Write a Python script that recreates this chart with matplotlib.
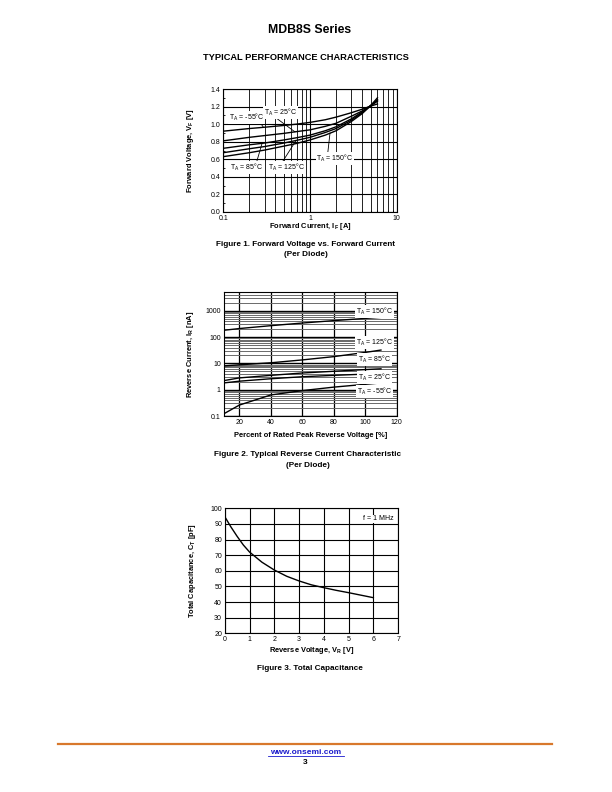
import numpy as np
import matplotlib
matplotlib.use('Agg')
import matplotlib.pyplot as plt
from matplotlib.ticker import FixedLocator, NullFormatter, MultipleLocator, LogLocator
from matplotlib.lines import Line2D

plt.rcParams['font.family'] = ['Liberation Sans', 'DejaVu Sans']
plt.rcParams['mathtext.default'] = 'regular'

# ---------------- Data ----------------
# Figure 1: forward voltage vs forward current
if_amp = [0.1, 0.2, 0.3, 0.5, 0.7, 1.0, 1.5, 2.0, 3.0, 4.0, 5.0, 6.0]
vf_m55 = [0.92, 0.95, 0.965, 0.985, 1.00, 1.02, 1.05, 1.08, 1.13, 1.17, 1.205, 1.23]
vf_25 = [0.81, 0.85, 0.87, 0.895, 0.915, 0.935, 0.975, 1.01, 1.09, 1.15, 1.21, 1.26]
vf_85 = [0.725, 0.765, 0.785, 0.82, 0.845, 0.875, 0.925, 0.97, 1.06, 1.14, 1.21, 1.27]
vf_125 = [0.675, 0.72, 0.745, 0.785, 0.815, 0.85, 0.905, 0.95, 1.045, 1.13, 1.21, 1.28]
vf_150 = [0.63, 0.675, 0.705, 0.75, 0.78, 0.82, 0.875, 0.925, 1.03, 1.12, 1.21, 1.30]

# Figure 2: reverse current vs percent of rated voltage
pct = [10, 20, 40, 60, 80, 100, 110]
ir_150 = [180, 210, 270, 340, 420, 510, 560]
ir_125 = [8.0, 8.8, 10.5, 13.5, 18, 26, 32]
ir_85 = [2.2, 2.8, 3.5, 4.3, 5.0, 5.8, 6.2]
ir_25 = [1.8, 2.1, 2.6, 3.1, 3.5, 3.9, 4.1]
ir_m55 = [0.12, 0.26, 0.63, 0.92, 1.25, 1.6, 1.8]

# Figure 3: total capacitance vs reverse voltage
vr = [0, 0.25, 0.5, 0.75, 1.0, 1.5, 2.0, 2.5, 3.0, 3.5, 4.0, 4.5, 5.0, 5.5, 6.0]
ct = [94.6, 88, 82, 76.5, 72, 65.5, 60.5, 56.5, 53.5, 51, 49.2, 47.5, 46, 44.4, 42.8]

fig1_yticks = [0.0, 0.2, 0.4, 0.6, 0.8, 1.0, 1.2, 1.4]
fig1_xticks = [0.1, 1, 10]
fig1_xticklabels = ['0.1', '1', '10']
fig2_yticks = [0.1, 1, 10, 100, 1000]
fig2_yticklabels = ['0.1', '1', '10', '100', '1000']
fig2_xticks = [20, 40, 60, 80, 100, 120]
fig3_xticks = [0, 1, 2, 3, 4, 5, 6, 7]
fig3_yticks = [20, 30, 40, 50, 60, 70, 80, 90, 100]

W, H = 612, 792
fig = plt.figure(figsize=(W / 100, H / 100), dpi=100)
fig.patch.set_facecolor('white')


def ax_px(l, t, r, b):
    return fig.add_axes([l / W, 1 - b / H, (r - l) / W, (b - t) / H])


def fx(px):
    return px / W


def fy(py):
    return 1 - py / H


TICK_FS = 5.0
LAB_FS = 5.4
ANN_FS = 5.0
box = dict(fc='white', ec='none', pad=0.6)

# ---------------- Header ----------------
fig.text(fx(310), fy(30), 'MDB8S Series', ha='center', va='center',
         fontsize=8.8, fontweight='bold')
fig.text(fx(306), fy(57), 'TYPICAL PERFORMANCE CHARACTERISTICS', ha='center',
         va='center', fontsize=6.7, fontweight='bold')

# ---------------- Figure 1 ----------------
ax1 = ax_px(223.3, 89, 396.7, 212)
ax1.set_xscale('log')
ax1.set_xlim(0.1, 10)
ax1.set_ylim(0, 1.4)
ax1.xaxis.set_major_locator(FixedLocator(fig1_xticks))
ax1.set_xticklabels(fig1_xticklabels)
ax1.xaxis.set_minor_locator(LogLocator(base=10, subs=np.arange(2, 10)))
ax1.xaxis.set_minor_formatter(NullFormatter())
ax1.set_yticks(fig1_yticks)
ax1.set_yticklabels([f'{v:.1f}' for v in fig1_yticks])
ax1.yaxis.set_minor_locator(MultipleLocator(0.1))
ax1.grid(True, which='major', axis='both', color='black', lw=0.8)
ax1.grid(True, which='minor', axis='x', color='black', lw=0.6)
ax1.tick_params(which='both', direction='in', labelsize=TICK_FS, pad=2,
                length=2, width=0.6)
ax1.tick_params(which='minor', length=1.5)
for s in ax1.spines.values():
    s.set_linewidth(0.8)
series1 = [vf_m55, vf_25, vf_85, vf_125, vf_150]
for v in series1:
    ax1.plot(if_amp, v, color='black', lw=1.0, zorder=3)

logI = np.log10(if_amp)


def vat(series, i):
    return np.interp(np.log10(i), logI, series)


labels1 = [
    ('T$_A$ = -55°C', vf_m55, (0.186, 1.078), 0.29, (0.25, 1.06)),
    ('T$_A$ = 25°C', vf_25, (0.46, 1.135), 0.67, (0.37, 1.10)),
    ('T$_A$ = 85°C', vf_85, (0.187, 0.51), 0.28, (0.24, 0.555)),
    ('T$_A$ = 125°C', vf_125, (0.543, 0.51), 0.69, (0.47, 0.555)),
    ('T$_A$ = 150°C', vf_150, (1.94, 0.61), 1.7, (1.6, 0.665)),
]
for txt, ser, pos, xt, start in labels1:
    ax1.text(pos[0], pos[1], txt, fontsize=ANN_FS, ha='center', va='center',
             bbox=box, zorder=5)
    ax1.plot([start[0], xt], [start[1], vat(ser, xt)], color='black', lw=0.6,
             zorder=4)

ax1.set_xlabel('Forward Current, I$_F$ [A]', fontsize=LAB_FS, fontweight='bold',
               va='center')
ax1.xaxis.set_label_coords(0.5, (212 - 227) / 123)
ax1.set_ylabel('Forward Voltage, V$_F$ [V]', fontsize=LAB_FS, fontweight='bold',
               va='center')
ax1.yaxis.set_label_coords((191 - 223.3) / 173.4, 0.5)

fig.text(fx(306), fy(244), 'Figure 1. Forward Voltage vs. Forward Current',
         ha='center', va='center', fontsize=5.9, fontweight='bold')
fig.text(fx(306), fy(255), '(Per Diode)', ha='center', va='center',
         fontsize=5.9, fontweight='bold')

# ---------------- Figure 2 ----------------
ax2 = ax_px(223.6, 292.3, 396.7, 416)
ax2.set_yscale('log')
ax2.set_xlim(10, 120)
ax2.set_ylim(0.1, 5000)
ax2.set_xticks(fig2_xticks)
ax2.yaxis.set_major_locator(FixedLocator(fig2_yticks))
ax2.set_yticklabels(fig2_yticklabels)
ax2.yaxis.set_minor_locator(LogLocator(base=10, subs=np.arange(2, 10)))
ax2.yaxis.set_minor_formatter(NullFormatter())
ax2.grid(True, which='major', axis='x', color='black', lw=0.9)
ax2.grid(True, which='major', axis='y', color='black', lw=1.0)
ax2.grid(True, which='minor', axis='y', color='#6a6a6a', lw=0.7)
ax2.tick_params(which='both', direction='in', labelsize=TICK_FS, pad=2,
                length=0)
for s in ax2.spines.values():
    s.set_linewidth(0.8)
series2 = [ir_150, ir_125, ir_85, ir_25, ir_m55]
for v in series2:
    ax2.plot(pct, v, color='black', lw=1.0, zorder=3)

logp = np.array(pct, dtype=float)


def iat(series, x):
    return 10 ** np.interp(x, logp, np.log10(series))


labels2 = [
    ('T$_A$ = 150°C', ir_150, 925),
    ('T$_A$ = 125°C', ir_125, 61),
    ('T$_A$ = 85°C', ir_85, 14.3),
    ('T$_A$ = 25°C', ir_25, 2.95),
    ('T$_A$ = -55°C', ir_m55, 0.84),
]
for txt, ser, yl in labels2:
    ax2.text(106, yl, txt, fontsize=ANN_FS, ha='center', va='center',
             bbox=box, zorder=5)
    ax2.plot([100, 100], [yl, iat(ser, 100)], color='black', lw=0.6, zorder=4)

ax2.set_xlabel('Percent of Rated Peak Reverse Voltage [%]', fontsize=LAB_FS,
               fontweight='bold', va='center')
ax2.xaxis.set_label_coords(0.5, (416 - 435) / 123.7)
ax2.set_ylabel('Reverse Current, I$_R$ [nA]', fontsize=LAB_FS,
               fontweight='bold', va='center')
ax2.yaxis.set_label_coords((191 - 223.6) / 173.1, 0.5)

fig.text(fx(308), fy(455), 'Figure 2. Typical Reverse Current Characteristic',
         ha='center', va='center', fontsize=5.9, fontweight='bold')
fig.text(fx(308), fy(466), '(Per Diode)', ha='center', va='center',
         fontsize=5.9, fontweight='bold')

# ---------------- Figure 3 ----------------
ax3 = ax_px(224.8, 508.3, 398.1, 633.3)
ax3.set_xlim(0, 7)
ax3.set_ylim(20, 100)
ax3.set_xticks(fig3_xticks)
ax3.set_yticks(fig3_yticks)
ax3.grid(True, color='black', lw=0.8)
ax3.tick_params(which='both', direction='in', labelsize=TICK_FS, pad=2,
                length=0)
for s in ax3.spines.values():
    s.set_linewidth(0.8)
ax3.plot(vr, ct, color='black', lw=1.0, zorder=3)
ax3.text(6.19, 93.2, 'f = 1 MHz', fontsize=ANN_FS, ha='center', va='center',
         bbox=box, zorder=5)
ax3.set_xlabel('Reverse Voltage, V$_R$ [V]', fontsize=LAB_FS,
               fontweight='bold', va='center')
ax3.xaxis.set_label_coords(0.5, (633.3 - 650) / 125)
ax3.set_ylabel('Total Capacitance, C$_T$ [pF]', fontsize=LAB_FS,
               fontweight='bold', va='center')
ax3.yaxis.set_label_coords((193 - 224.8) / 173.3, 0.5)

fig.text(fx(310), fy(668), 'Figure 3. Total Capacitance', ha='center',
         va='center', fontsize=5.9, fontweight='bold')

# ---------------- Footer ----------------
fig.add_artist(Line2D([fx(58), fx(552)], [fy(744), fy(744)], color='#D8782C',
                      lw=1.6))
t = fig.text(fx(306), fy(752), 'www.onsemi.com', ha='center', va='center',
             fontsize=6.0, fontweight='bold', color='#1a1acc')
fig.add_artist(Line2D([fx(268), fx(344)], [fy(756), fy(756)], color='#1a1acc',
                      lw=0.6))
fig.text(fx(305), fy(762), '3', ha='center', va='center', fontsize=6.0,
         fontweight='bold')

fig.savefig('out.png', dpi=100, facecolor='white')
